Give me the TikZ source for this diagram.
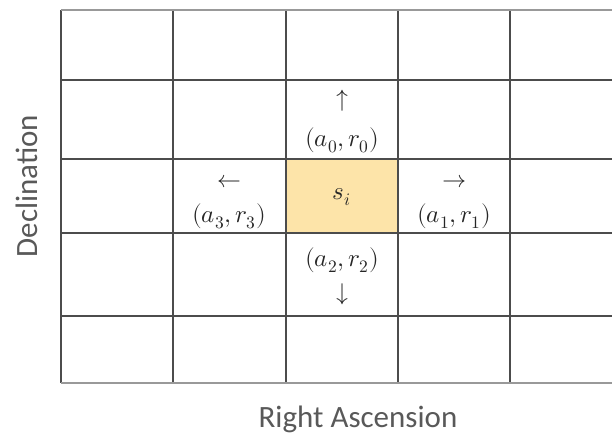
\documentclass[tikz,border=0pt]{standalone}
\usepackage{fontspec}
\usepackage{unicode-math}
\setmainfont{Carlito}
\setmathfont{Latin Modern Math}
\definecolor{statefill}{HTML}{FDE4A9}
\definecolor{textgray}{HTML}{595959}

\begin{document}
\begin{tikzpicture}[x=1pt, y=-1pt,
    gridline/.style={draw=black!70, line width=1.2pt},
    border/.style={draw=black!40, line width=2pt},
    action/.style={font=\fontsize{25}{30}\selectfont, text=black!85, inner sep=0pt},
    move/.style={action, font=\fontsize{24}{28}\selectfont},
    axislabel/.style={font=\fontsize{31}{37}\selectfont, text=textgray}
]
    \useasboundingbox (0,0) rectangle (612,437);

    % Current state cell
    \fill[statefill] (286,159) rectangle (398,233);

    % Grid of sky cells
    \foreach \x in {61,173,286,398,510}
        \draw[gridline] (\x,10) -- (\x,383);
    \foreach \y in {80,159,233,316}
        \draw[gridline] (61,\y) -- (612,\y);
    \draw[border] (61,10) -- (612,10);
    \draw[border] (61,383) -- (612,383);

    % State and actions with rewards
    \node[action] (state) at (342,197) {$s_i$};
    \node[move]   (up)    at (342,101) {$\uparrow$};
    \node[action] (act0)  at (342,140) {$(a_0,r_0)$};
    \node[move]   (left)  at (229,181) {$\leftarrow$};
    \node[action] (act3)  at (229,216) {$(a_3,r_3)$};
    \node[move]   (right) at (454,181) {$\rightarrow$};
    \node[action] (act1)  at (454,216) {$(a_1,r_1)$};
    \node[action] (act2)  at (342,260) {$(a_2,r_2)$};
    \node[move]   (down)  at (342,294) {$\downarrow$};

    % Axis labels
    \node[axislabel, rotate=90] (dec) at (27,186) {Declination};
    \node[axislabel] (ra) at (358,419) {Right Ascension};
\end{tikzpicture}
\end{document}
